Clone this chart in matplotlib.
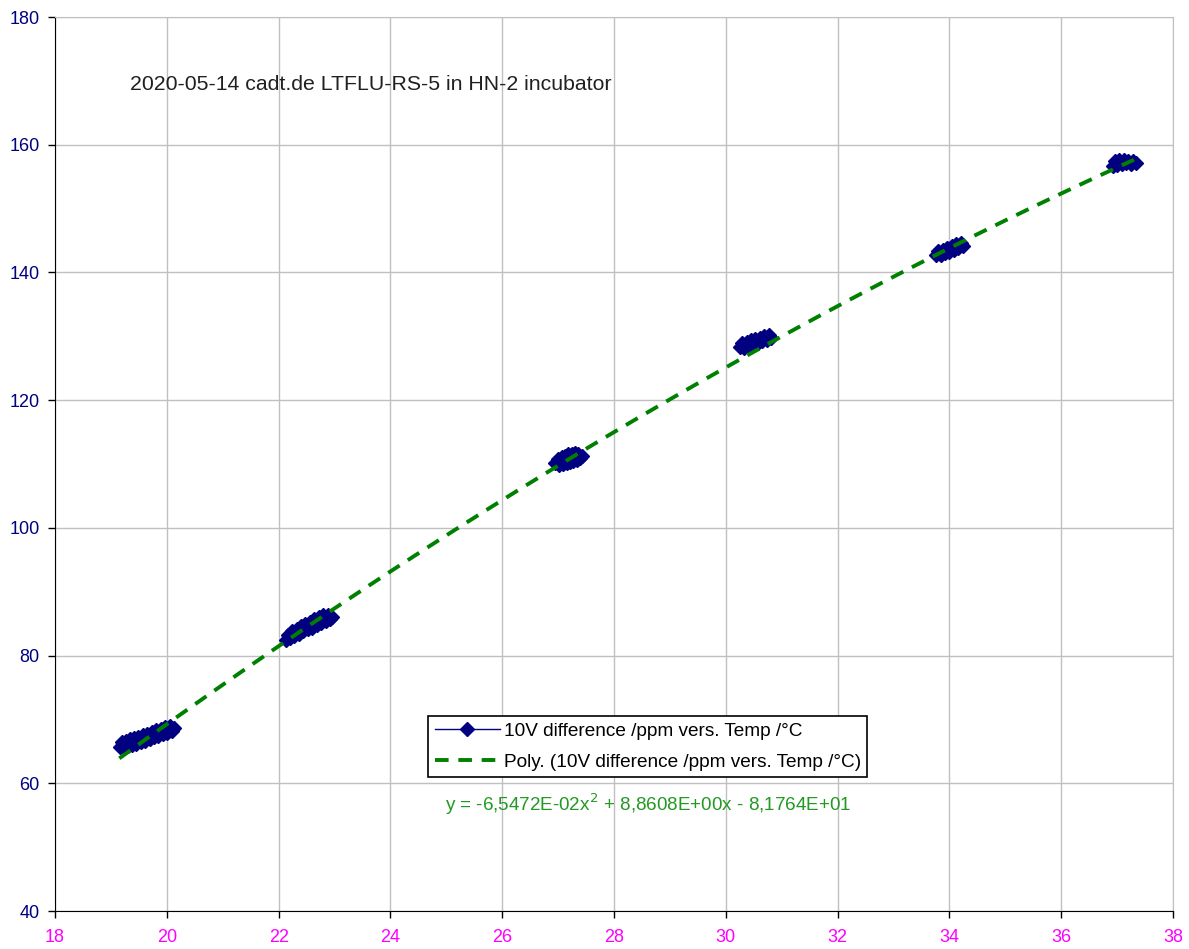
import numpy as np
import matplotlib
matplotlib.use('Agg')
import matplotlib.pyplot as plt

plt.rcParams['font.family'] = ['Liberation Sans', 'DejaVu Sans']

# measured 10V difference (ppm) vs temperature (degC), one block per incubator step
c1_x = [19.17, 19.20, 19.24, 19.27, 19.30, 19.34, 19.38, 19.42, 19.45, 19.49, 19.53, 19.57, 19.61, 19.65,
        19.69, 19.73, 19.77, 19.81, 19.85, 19.89, 19.93, 19.97, 20.01, 20.05, 20.09, 20.12]
c1_y = [65.7, 66.4, 65.5, 66.6, 65.8, 66.9, 66.0, 67.1, 66.2, 67.3, 66.5, 67.5, 66.7, 67.8,
        66.9, 68.0, 67.2, 68.3, 67.4, 68.5, 67.7, 68.8, 67.9, 69.0, 68.2, 68.7]
c2_x = [22.13, 22.16, 22.20, 22.24, 22.28, 22.32, 22.36, 22.40, 22.44, 22.48, 22.52, 22.56, 22.60,
        22.64, 22.68, 22.72, 22.76, 22.80, 22.84, 22.88, 22.92, 22.96]
c2_y = [82.4, 83.3, 82.8, 83.8, 83.1, 84.2, 83.4, 84.6, 83.8, 84.9, 84.1, 85.3, 84.4, 85.7,
        84.8, 86.0, 85.1, 86.3, 85.4, 86.4, 85.7, 86.1]
c3_x = [26.95, 26.99, 27.02, 27.06, 27.09, 27.12, 27.15, 27.18, 27.21, 27.24, 27.27, 27.30,
        27.33, 27.36, 27.39, 27.42]
c3_y = [110.1, 110.8, 109.8, 111.1, 110.0, 111.3, 110.1, 111.5, 110.3, 111.6, 110.5, 111.7,
        110.6, 111.6, 110.9, 111.3]
c4_x = [30.25, 30.29, 30.33, 30.37, 30.41, 30.45, 30.49, 30.53, 30.57, 30.61, 30.65, 30.69,
        30.73, 30.77, 30.81]
c4_y = [128.4, 128.9, 128.2, 129.1, 128.5, 129.4, 128.7, 129.6, 128.9, 129.8, 129.2, 130.0,
        129.4, 130.2, 129.8]
c5_x = [33.76, 33.80, 33.84, 33.88, 33.92, 33.96, 34.00, 34.04, 34.08, 34.12, 34.16, 34.20, 34.24]
c5_y = [142.8, 143.3, 142.7, 143.6, 143.0, 143.9, 143.2, 144.2, 143.5, 144.5, 143.8, 144.6, 144.2]
c6_x = [36.92, 36.96, 37.00, 37.04, 37.08, 37.12, 37.16, 37.20, 37.24, 37.28, 37.33]
c6_y = [156.7, 157.4, 156.9, 157.6, 157.0, 157.6, 157.1, 157.5, 157.0, 157.4, 157.1]

# 2nd order trend line coefficients (a2, a1, a0)
poly_coef = [-6.5472E-02, 8.8608E+00, -8.1764E+01]
fit_range = [19.15, 37.3]

blocks = [(c1_x, c1_y), (c2_x, c2_y), (c3_x, c3_y), (c4_x, c4_y), (c5_x, c5_y), (c6_x, c6_y)]
xs = []
ys = []
for bx, by in blocks:
    xs += bx + [np.nan]
    ys += by + [np.nan]

fig = plt.figure(figsize=(11.89, 9.49), dpi=100)
ax = fig.add_axes([0.0463, 0.040, 0.9403, 0.942])

ax.plot(xs, ys, '-', color='#000080', lw=1, marker='D', ms=7,
        mfc='#000080', mec='#000080', label='10V difference /ppm vers. Temp /°C', zorder=3)

xf = np.linspace(fit_range[0], fit_range[1], 300)
yf = np.polyval(poly_coef, xf)
ax.plot(xf, yf, color='#008000', lw=2.8, dashes=(3.5, 2.5),
        label='Poly. (10V difference /ppm vers. Temp /°C)', zorder=4)

ax.set_xlim(18, 38)
ax.set_ylim(40, 180)
ax.set_xticks(np.arange(18, 39, 2))
ax.set_yticks(np.arange(40, 181, 20))
ax.grid(True, color='#c0c0c0', lw=1)
ax.set_axisbelow(True)
for s in ['top', 'right']:
    ax.spines[s].set_color('#c0c0c0')
for s in ['left', 'bottom']:
    ax.spines[s].set_color('black')
ax.tick_params(axis='both', direction='out', length=5, width=1, labelsize=13)
ax.tick_params(axis='x', labelcolor='#ff00ff', pad=8)
ax.tick_params(axis='y', labelcolor='#000080', pad=6)

ax.text(0.067, 0.918, '2020-05-14 cadt.de LTFLU-RS-5 in HN-2 incubator',
        transform=ax.transAxes, fontsize=15.3, color='#202020')

leg = ax.legend(loc='upper left', bbox_to_anchor=(0.334, 0.218), fontsize=13.7,
                frameon=True, fancybox=False, edgecolor='black', framealpha=1,
                handlelength=3.4, borderpad=0.35, labelspacing=0.7, handletextpad=0.2,
                borderaxespad=0)
leg.get_frame().set_linewidth(1.2)

ax.text(0.531, 0.112, 'y = -6,5472E-02x$^2$ + 8,8608E+00x - 8,1764E+01',
        transform=ax.transAxes, fontsize=13.6, color='#229922', ha='center')

fig.savefig('out.png', dpi=100)
